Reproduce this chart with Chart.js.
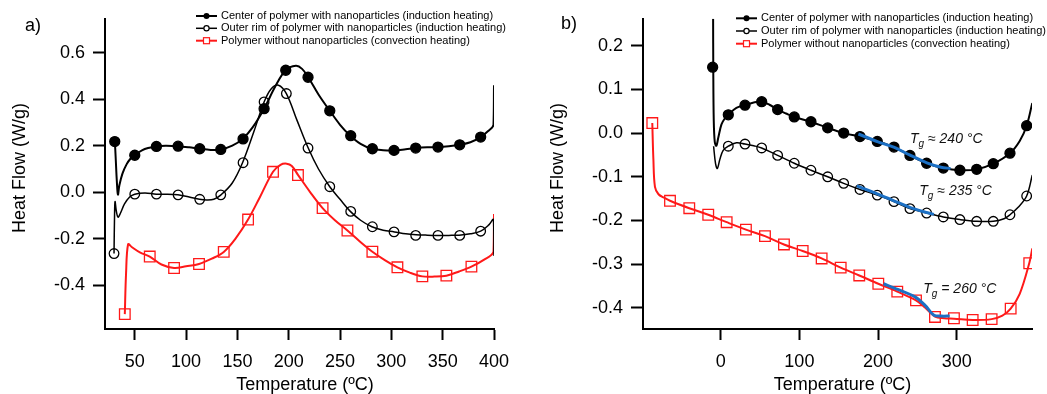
<!DOCTYPE html>
<html>
<head>
<meta charset="utf-8">
<script src="https://cdn.jsdelivr.net/npm/chart.js@4.4.1/dist/chart.umd.min.js"></script>
<style>
  html, body { margin: 0; padding: 0; background: #fff; }
  #wrap { position: relative; width: 1047px; height: 394px; }
  .panel { position: absolute; top: 0; height: 394px; }
</style>
</head>
<body>
<div id="wrap">
  <div class="panel" style="left:0;width:523px"><canvas id="chart-a"></canvas></div>
  <div class="panel" style="left:523px;width:524px"><canvas id="chart-b"></canvas></div>
</div>
<script>

// ---- panel a) data ----
var aCenterT  = [30.5, 31.5, 32.5, 33.6, 35, 38, 42, 46, 50, 57, 63, 71, 80, 92, 103, 113, 124, 134, 145, 155, 165, 176, 187, 197, 207, 213, 219, 229, 240, 250, 260, 270, 281, 292, 303, 314, 324, 335, 345, 356, 366, 377, 387, 394, 399.5, 400];
var aCenterHF = [0.23, 0.14, 0.05, -0.01, 0.03, 0.08, 0.12, 0.145, 0.16, 0.18, 0.19, 0.197, 0.2, 0.198, 0.193, 0.187, 0.182, 0.184, 0.2, 0.229, 0.28, 0.359, 0.455, 0.524, 0.543, 0.53, 0.494, 0.42, 0.35, 0.29, 0.243, 0.208, 0.187, 0.181, 0.18, 0.185, 0.19, 0.193, 0.194, 0.198, 0.204, 0.215, 0.237, 0.262, 0.29, 0.46];
var aCenterMarkT  = [30.5, 50, 71.1, 92.2, 113.3, 133.8, 155.5, 176, 197.1, 218.8, 240, 260.4, 281.5, 302.6, 323.7, 345.4, 366.6, 387];
var aCenterMarkHF = [0.218, 0.159, 0.197, 0.198, 0.187, 0.184, 0.229, 0.359, 0.524, 0.494, 0.35, 0.243, 0.187, 0.18, 0.19, 0.194, 0.204, 0.237];

var aRimT  = [29.8, 30.3, 30.8, 32, 33.7, 36, 40, 45, 50, 60, 71, 82, 92, 103, 113, 120, 127, 134, 145, 155, 166, 176, 183, 190, 197.7, 208, 219, 229, 240, 250, 260, 270, 281, 292, 303, 314, 324, 335, 345, 356, 366, 377, 387, 395, 399.5, 400];
var aRimHF = [-0.263, -0.1, -0.04, -0.08, -0.107, -0.09, -0.05, -0.02, -0.008, -0.003, -0.008, -0.008, -0.011, -0.02, -0.03, -0.033, -0.03, -0.011, 0.04, 0.127, 0.26, 0.388, 0.445, 0.46, 0.424, 0.31, 0.19, 0.1, 0.024, -0.03, -0.082, -0.12, -0.148, -0.163, -0.17, -0.178, -0.182, -0.184, -0.185, -0.185, -0.184, -0.178, -0.167, -0.14, -0.117, -0.273];
var aRimMarkT  = [29.8, 50, 71.1, 92.2, 113.3, 133.8, 155.5, 176, 197.7, 218.8, 240, 260.4, 281.5, 302.6, 323.7, 345.4, 366.6, 387];
var aRimMarkHF = [-0.263, -0.008, -0.008, -0.011, -0.03, -0.011, 0.127, 0.388, 0.424, 0.19, 0.024, -0.082, -0.148, -0.17, -0.185, -0.185, -0.185, -0.167];

var aBulkT  = [40.3, 41.5, 43.5, 47, 55, 64.6, 76, 88.3, 100, 112.6, 125, 136.7, 148, 160.4, 172, 184.7, 192, 198, 203, 209, 221, 233, 245, 257.2, 269, 281.5, 294, 305.9, 318, 330.2, 342, 353.6, 366, 378, 390, 399.5, 400];
var aBulkHF = [-0.523, -0.35, -0.223, -0.235, -0.258, -0.276, -0.31, -0.325, -0.318, -0.308, -0.285, -0.256, -0.2, -0.117, -0.02, 0.088, 0.118, 0.123, 0.113, 0.075, 0.0, -0.068, -0.12, -0.164, -0.21, -0.255, -0.292, -0.322, -0.345, -0.361, -0.362, -0.358, -0.34, -0.319, -0.29, -0.255, -0.093];
var aBulkMarkT  = [40.3, 64.6, 88.3, 112.6, 136.7, 160.4, 184.7, 209, 233, 257.2, 281.5, 305.9, 330.2, 353.6, 378];
var aBulkMarkHF = [-0.523, -0.276, -0.325, -0.308, -0.256, -0.117, 0.088, 0.074, -0.068, -0.164, -0.255, -0.322, -0.361, -0.358, -0.319];

var aTicksX = [50, 100, 150, 200, 250, 300, 350, 400];
var aTicksY = [-0.4, -0.2, 0.0, 0.2, 0.4, 0.6];

// ---- panel b) data ----
var bCenterT  = [-9.6, -9.4, -8.8, -7.5, -5.5, -3, 1, 5, 9.7, 20, 30.9, 42, 52.1, 62, 72.4, 83, 93.5, 114.7, 136, 156.3, 177, 199, 220.2, 240.5, 261.7, 282.9, 304, 325.3, 346.4, 367.6, 380, 388.8, 396];
var bCenterHF = [0.262, 0.151, 0.03, -0.02, -0.029, -0.01, 0.02, 0.033, 0.042, 0.058, 0.064, 0.07, 0.072, 0.065, 0.054, 0.045, 0.037, 0.026, 0.012, 0.0, -0.008, -0.019, -0.032, -0.051, -0.069, -0.08, -0.085, -0.083, -0.07, -0.046, -0.018, 0.017, 0.069];
var bCenterMarkT  = [-10.2, 9.7, 30.9, 52.1, 72.4, 93.5, 114.7, 136, 156.3, 177, 199, 220.2, 240.5, 261.7, 282.9, 304, 325.3, 346.4, 367.6, 388.8];
var bCenterMarkHF = [0.151, 0.042, 0.064, 0.072, 0.054, 0.037, 0.026, 0.012, 0.0, -0.008, -0.019, -0.032, -0.051, -0.069, -0.08, -0.085, -0.083, -0.07, -0.046, 0.017];

var bRimT  = [-9, -6.5, -4.3, -1, 3, 9.7, 20, 30.9, 42, 52.1, 72.4, 93.5, 114.7, 136, 156.3, 177, 199, 220.2, 240.5, 261.7, 282.9, 304, 325.3, 346.4, 360, 367.6, 378, 388.8, 396];
var bRimHF = [-0.03, -0.07, -0.081, -0.06, -0.04, -0.03, -0.022, -0.025, -0.029, -0.034, -0.051, -0.069, -0.085, -0.1, -0.115, -0.129, -0.142, -0.157, -0.173, -0.183, -0.192, -0.198, -0.202, -0.202, -0.196, -0.187, -0.17, -0.144, -0.096];
var bRimMarkT  = [9.7, 30.9, 52.1, 72.4, 93.5, 114.7, 136, 156.3, 177, 199, 220.2, 240.5, 261.7, 282.9, 304, 325.3, 346.4, 367.6, 388.8];
var bRimMarkHF = [-0.03, -0.025, -0.034, -0.051, -0.069, -0.085, -0.1, -0.115, -0.129, -0.142, -0.157, -0.173, -0.183, -0.192, -0.198, -0.202, -0.202, -0.187, -0.144];

var bBulkT  = [-86.9, -85.5, -83.5, -79, -72, -64.4, -39.9, -15.8, 7.6, 32.1, 56.3, 80.4, 104.2, 128.3, 152.5, 176.1, 200.3, 224.4, 248.2, 260, 272.3, 284, 296.4, 320.2, 344.3, 358, 368.5, 380, 392.1, 396];
var bBulkHF = [0.023, -0.06, -0.123, -0.14, -0.148, -0.155, -0.172, -0.187, -0.204, -0.221, -0.236, -0.255, -0.27, -0.287, -0.308, -0.326, -0.345, -0.363, -0.383, -0.4, -0.42, -0.424, -0.425, -0.428, -0.426, -0.418, -0.402, -0.368, -0.298, -0.264];
var bBulkMarkT  = [-86.9, -64.4, -39.9, -15.8, 7.6, 32.1, 56.3, 80.4, 104.2, 128.3, 152.5, 176.1, 200.3, 224.4, 248.2, 272.3, 296.4, 320.2, 344.3, 368.5, 392.1];
var bBulkMarkHF = [0.023, -0.155, -0.172, -0.187, -0.204, -0.221, -0.236, -0.255, -0.27, -0.287, -0.308, -0.326, -0.345, -0.363, -0.383, -0.421, -0.424, -0.428, -0.426, -0.402, -0.298];

// Tg fit segments (blue)
var bFitCenterT  = [175, 200, 220, 240, 262, 280, 292];
var bFitCenterHF = [-0.002, -0.02, -0.032, -0.05, -0.068, -0.078, -0.081];
var bFitRimT  = [173, 199, 220, 240, 260, 271];
var bFitRimHF = [-0.121, -0.139, -0.155, -0.17, -0.181, -0.186];
var bFitBulkT  = [207, 225, 247, 260, 271, 280, 291];
var bFitBulkHF = [-0.345, -0.358, -0.375, -0.395, -0.417, -0.419, -0.419];

var bTicksX = [0, 100, 200, 300];
var bTicksY = [-0.4, -0.3, -0.2, -0.1, 0.0, 0.1, 0.2];

var legendLabels = [
    'Center of polymer with nanoparticles (induction heating)',
    'Outer rim of polymer with nanoparticles (induction heating)',
    'Polymer without nanoparticles (convection heating)'
];
var tgLabels = [' \u2248 240 \u00b0C', ' \u2248 235 \u00b0C', ' = 260 \u00b0C'];

var FONT = '"Liberation Sans", Arial, Helvetica, sans-serif';
var RED = 'rgb(255,25,25)';
var BLUE = 'rgb(28,112,196)';

function pts(xs, ys) {
    return xs.map(function(x, i) { return { x: x, y: ys[i] }; });
}

function curve(xs, ys, color, width) {
    return { data: pts(xs, ys), showLine: true, borderColor: color, borderWidth: width,
             pointRadius: 0, tension: 0.35, fill: false, order: 2 };
}

function marks(xs, ys, style, color, fill, r) {
    return { data: pts(xs, ys), showLine: false, pointStyle: style, pointRadius: r,
             pointBackgroundColor: fill, pointBorderColor: color, pointBorderWidth: 1.3, order: 1 };
}

function fit(xs, ys) {
    return { data: pts(xs, ys), showLine: true, borderColor: BLUE, borderWidth: 3,
             pointRadius: 0, tension: 0.3, fill: false, order: 0 };
}

function scales(xMin, xMax, yMin, yMax, xTicks, yTicks, yWidth) {
    return {
        x: {
            type: 'linear', min: xMin, max: xMax,
            afterBuildTicks: function(s) { s.ticks = xTicks.map(function(v) { return { value: v }; }); },
            afterFit: function(s) { s.height = 65; },
            grid: { drawOnChartArea: false, drawTicks: true, tickLength: 11, tickWidth: 2, tickColor: '#000' },
            border: { display: true, color: '#000', width: 2 },
            ticks: { color: '#000', font: { family: FONT, size: 18 }, padding: 11, maxRotation: 0, autoSkip: false,
                     callback: function(v) { return String(v); } }
        },
        y: {
            type: 'linear', min: yMin, max: yMax,
            afterBuildTicks: function(s) { s.ticks = yTicks.map(function(v) { return { value: v }; }); },
            afterFit: function(s) { s.width = yWidth; },
            grid: { drawOnChartArea: false, drawTicks: true, tickLength: 12, tickWidth: 2, tickColor: '#000' },
            border: { display: true, color: '#000', width: 2 },
            ticks: { color: '#000', font: { family: FONT, size: 18 }, padding: 8, autoSkip: false,
                     callback: function(v) { return Number(v).toFixed(1); } }
        }
    };
}

function drawLegend(ctx, x0, rows) {
    var styles = ['filled', 'open', 'square'];
    ctx.save();
    ctx.font = '11px ' + FONT;
    ctx.textBaseline = 'middle';
    ctx.textAlign = 'left';
    for (var i = 0; i < 3; i++) {
        var y = rows[i];
        var col = i == 2 ? RED : '#000';
        ctx.strokeStyle = col;
        ctx.lineWidth = i == 1 ? 1.5 : 2;
        ctx.beginPath();
        ctx.moveTo(x0, y);
        ctx.lineTo(x0 + 21, y);
        ctx.stroke();
        var mx = x0 + 10.5;
        ctx.lineWidth = 1.2;
        if (styles[i] == 'filled') {
            ctx.fillStyle = '#000';
            ctx.beginPath(); ctx.arc(mx, y, 3, 0, Math.PI * 2); ctx.fill();
        } else if (styles[i] == 'open') {
            ctx.fillStyle = '#fff';
            ctx.beginPath(); ctx.arc(mx, y, 2.6, 0, Math.PI * 2); ctx.fill(); ctx.stroke();
        } else {
            ctx.fillStyle = '#fff';
            ctx.fillRect(mx - 3, y - 3, 6, 6);
            ctx.strokeRect(mx - 3, y - 3, 6, 6);
        }
        ctx.fillStyle = '#000';
        ctx.fillText(legendLabels[i], x0 + 25, y);
    }
    ctx.restore();
}

function drawTitles(ctx, letter, lx, ly, xcx, ycx) {
    ctx.save();
    ctx.fillStyle = '#000';
    ctx.font = '18px ' + FONT;
    ctx.textAlign = 'center';
    ctx.textBaseline = 'middle';
    ctx.fillText(letter, lx, ly);
    ctx.fillText('Temperature (\u00baC)', xcx, 385);
    ctx.translate(ycx, 168);
    ctx.rotate(-Math.PI / 2);
    ctx.fillText('Heat Flow (W/g)', 0, 0);
    ctx.restore();
}

function drawTg(ctx, x, y, rest) {
    ctx.save();
    ctx.fillStyle = '#111';
    ctx.textBaseline = 'alphabetic';
    ctx.textAlign = 'left';
    ctx.font = 'italic 14px ' + FONT;
    ctx.fillText('T', x, y);
    var w = ctx.measureText('T').width;
    ctx.font = 'italic 10px ' + FONT;
    ctx.fillText('g', x + w, y + 4);
    var w2 = ctx.measureText('g').width;
    ctx.font = 'italic 14px ' + FONT;
    ctx.fillText(rest, x + w + w2, y);
    ctx.restore();
}

var textA = {
    id: 'textA',
    afterDraw: function(chart) {
        var ctx = chart.ctx;
        drawTitles(ctx, 'a)', 33, 26, 305, 20.5);
        drawLegend(ctx, 196, [16, 28.3, 40.7]);
    }
};

var textB = {
    id: 'textB',
    afterDraw: function(chart) {
        var ctx = chart.ctx;
        drawTitles(ctx, 'b)', 46, 24, 319.5, 35);
        drawLegend(ctx, 213, [18.3, 31, 43.7]);
        drawTg(ctx, 387, 142.7, tgLabels[0]);
        drawTg(ctx, 396.3, 195, tgLabels[1]);
        drawTg(ctx, 400.3, 293.3, tgLabels[2]);
    }
};

var common = {
    responsive: true,
    maintainAspectRatio: false,
    animation: false,
    plugins: { legend: { display: false }, tooltip: { enabled: false } }
};

var chartA = new Chart(document.getElementById('chart-a'), {
    type: 'scatter',
    data: {
        datasets: [
            curve(aCenterT, aCenterHF, '#000', 2),
            curve(aRimT, aRimHF, '#000', 1.5),
            curve(aBulkT, aBulkHF, RED, 2),
            marks(aCenterMarkT, aCenterMarkHF, 'circle', '#000', '#000', 5),
            marks(aRimMarkT, aRimMarkHF, 'circle', '#000', 'rgba(0,0,0,0)', 4.8),
            marks(aBulkMarkT, aBulkMarkHF, 'rect', RED, 'rgba(0,0,0,0)', 7.5)
        ]
    },
    options: Object.assign({}, common, {
        layout: { padding: { left: 0, right: 29, top: 15, bottom: 0 } },
        scales: scales(21, 400, -0.587, 0.745, aTicksX, aTicksY, 105)
    }),
    plugins: [textA]
});

var chartB = new Chart(document.getElementById('chart-b'), {
    type: 'scatter',
    data: {
        datasets: [
            curve(bCenterT, bCenterHF, '#000', 2),
            curve(bRimT, bRimHF, '#000', 1.5),
            curve(bBulkT, bBulkHF, RED, 2),
            marks(bCenterMarkT, bCenterMarkHF, 'circle', '#000', '#000', 5),
            marks(bRimMarkT, bRimMarkHF, 'circle', '#000', 'rgba(0,0,0,0)', 4.8),
            marks(bBulkMarkT, bBulkMarkHF, 'rect', RED, 'rgba(0,0,0,0)', 7.5),
            fit(bFitCenterT, bFitCenterHF),
            fit(bFitRimT, bFitRimHF),
            fit(bFitBulkT, bFitBulkHF)
        ]
    },
    options: Object.assign({}, common, {
        layout: { padding: { left: 0, right: 15, top: 15, bottom: 0 } },
        scales: scales(-98.7, 395.6, -0.4486, 0.2618, bTicksX, bTicksY, 120)
    }),
    plugins: [textB]
});

</script>
</body>
</html>
